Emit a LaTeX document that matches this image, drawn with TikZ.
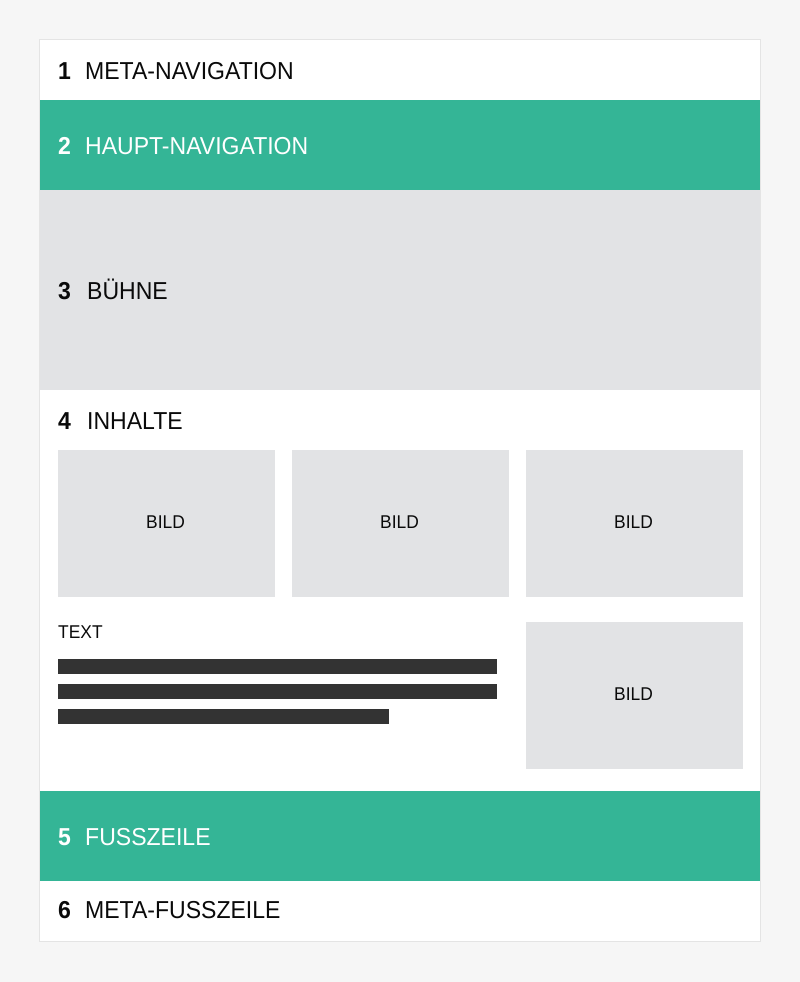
\documentclass[tikz,border=0pt]{standalone}
\usepackage{fontspec}
\setmainfont{Liberation Sans}[FakeStretch=0.94]
\definecolor{bgc}{HTML}{F6F6F6}
\definecolor{greenc}{HTML}{34B596}
\definecolor{grayc}{HTML}{E2E3E5}
\definecolor{borderc}{HTML}{E4E4E4}
\definecolor{barc}{HTML}{333333}
\definecolor{txtc}{HTML}{0A0A0A}
\tikzset{
  hdr/.style={anchor=base west, inner sep=0pt, text=txtc, font=\fontsize{24.5}{29}\selectfont},
  hdrw/.style={hdr, text=white},
  small/.style={inner sep=0pt, text=txtc, font=\fontsize{18.5}{22}\selectfont},
  bildbox/.style={fill=grayc},
  bar/.style={fill=barc},
}
\begin{document}
\begin{tikzpicture}[x=1pt,y=-1pt]
\useasboundingbox (0,0) rectangle (800,982);
\fill[bgc] (0,0) rectangle (800,982);
\fill[white] (40,40) rectangle (760,941);
\fill[greenc] (40,100) rectangle (760,190);
\fill[grayc] (40,190) rectangle (760,390);
\fill[greenc] (40,791) rectangle (760,881);
\draw[borderc, line width=1pt] (39.5,39.5) rectangle (760.5,941.5);
% image boxes
\fill[bildbox] (58,450) rectangle (275,597);
\fill[bildbox] (292,450) rectangle (509,597);
\fill[bildbox] (526,450) rectangle (743,597);
\fill[bildbox] (526,622) rectangle (743,769);
\node[small, anchor=base] (b1) at (165.5,528) {BILD};
\node[small, anchor=base] (b2) at (399.5,528) {BILD};
\node[small, anchor=base] (b3) at (633.5,528) {BILD};
\node[small, anchor=base] (b4) at (633.5,700) {BILD};
% text block
\node[small, anchor=base west] (tx) at (58,638) {TEXT};
\fill[bar] (58,659) rectangle (497,674);
\fill[bar] (58,684) rectangle (497,699);
\fill[bar] (58,709) rectangle (389,724);
% headings
\node[hdr] (n1) at (58,79) {\textbf{1}};
\node[hdr] (t1) at (85,79) {META-NAVIGATION};
\node[hdrw] (n2) at (58,154) {\textbf{2}};
\node[hdrw] (t2) at (85,154) {HAUPT-NAVIGATION};
\node[hdr] (n3) at (58,299) {\textbf{3}};
\node[hdr] (t3) at (87,299) {BÜHNE};
\node[hdr] (n4) at (58,429) {\textbf{4}};
\node[hdr] (t4) at (87,429) {INHALTE};
\node[hdrw] (n5) at (58,845) {\textbf{5}};
\node[hdrw] (t5) at (85,845) {FUSSZEILE};
\node[hdr] (n6) at (58,918) {\textbf{6}};
\node[hdr] (t6) at (85,918) {META-FUSSZEILE};
\end{tikzpicture}
\end{document}
